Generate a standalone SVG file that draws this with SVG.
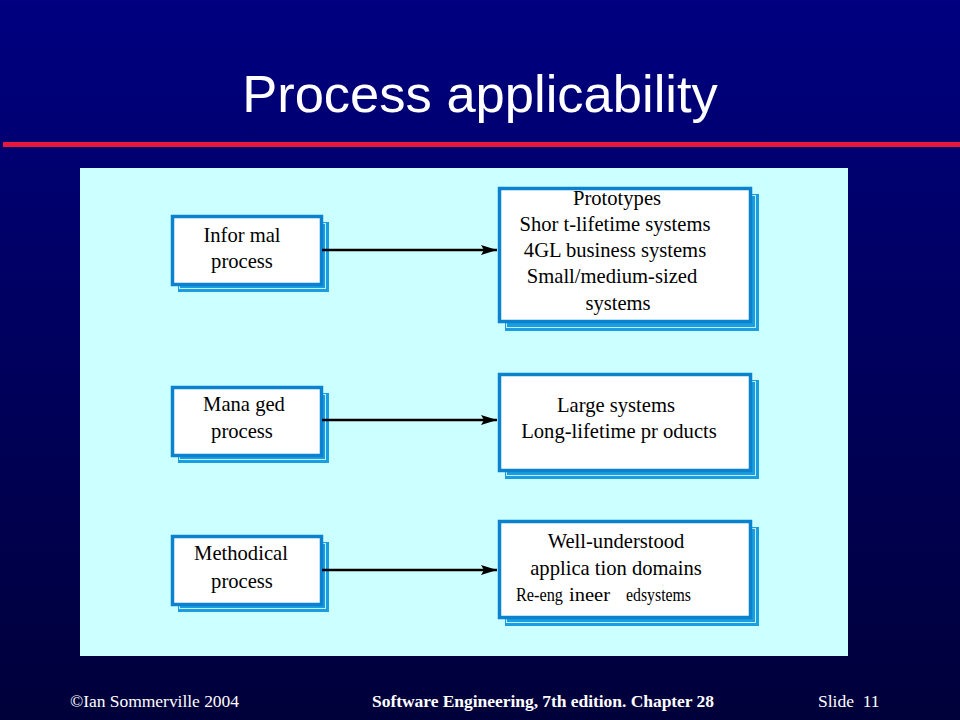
<svg xmlns="http://www.w3.org/2000/svg" width="960" height="720" viewBox="0 0 960 720">
<defs>
<linearGradient id="bg" x1="0" y1="0" x2="0" y2="1">
<stop offset="0" stop-color="#000080"/>
<stop offset="1" stop-color="#00003a"/>
</linearGradient>
<marker id="ah" viewBox="0 0 16 10" refX="16" refY="5" markerWidth="16" markerHeight="10" markerUnits="userSpaceOnUse" orient="auto">
<path d="M0,0 L16,5 L0,10 L3,5 Z" fill="#000"/>
</marker>
<style>
.sh{fill:#1a9ee0;stroke:none}
.shl{fill:none;stroke:#bfefff;stroke-width:1}
.bx{fill:#ffffff;stroke:#0a82d0;stroke-width:3.5}
.t{font-family:"Liberation Serif","Times New Roman",serif;font-size:20.6px;fill:#000;text-anchor:middle}
.t3{font-family:"Liberation Serif","Times New Roman",serif;font-size:19px;fill:#000}
.ft{font-family:"Liberation Serif","Times New Roman",serif;font-size:17.5px;fill:#fff}
.cn{stroke:#000;stroke-width:2.5;fill:none}
</style>
</defs>
<rect width="960" height="720" fill="url(#bg)"/>
<text x="480" y="112" font-family="Liberation Sans,Arial,sans-serif" font-size="52.5" fill="#fff" text-anchor="middle">Process applicability</text>
<rect x="3" y="142" width="957" height="5" fill="#e8173f"/>
<rect x="80" y="168" width="768" height="488" fill="#ccffff"/>

<g id="informal">
<rect class="sh" x="178" y="222" width="151" height="70"/>
<rect class="shl" x="179.5" y="223.5" width="146" height="65"/>
<rect class="bx" x="172.5" y="216.5" width="149" height="68"/>
<text class="t" x="242" y="242">Infor mal</text>
<text class="t" x="242" y="268">process</text>
</g>
<g id="managed">
<rect class="sh" x="178" y="393" width="151" height="70"/>
<rect class="shl" x="179.5" y="394.5" width="146" height="65"/>
<rect class="bx" x="172.5" y="387.5" width="149" height="68"/>
<text class="t" x="244" y="411">Mana ged</text>
<text class="t" x="242" y="438">process</text>
</g>
<g id="methodical">
<rect class="sh" x="178" y="542" width="151" height="70"/>
<rect class="shl" x="179.5" y="543.5" width="146" height="65"/>
<rect class="bx" x="172.5" y="536.5" width="149" height="68"/>
<text class="t" x="241" y="560">Methodical</text>
<text class="t" x="242" y="588">process</text>
</g>

<g id="informal-use">
<rect class="sh" x="505" y="194" width="254" height="137"/>
<rect class="shl" x="506.5" y="195.5" width="249" height="132"/>
<rect class="bx" x="499.5" y="188.5" width="251" height="133"/>
<text class="t" x="617" y="205">Prototypes</text>
<text class="t" x="615" y="231">Shor t-lifetime systems</text>
<text class="t" x="615" y="257">4GL business systems</text>
<text class="t" x="612" y="283">Small/medium-sized</text>
<text class="t" x="618" y="310">systems</text>
</g>
<g id="managed-use">
<rect class="sh" x="505" y="380" width="254" height="99"/>
<rect class="shl" x="506.5" y="381.5" width="249" height="94"/>
<rect class="bx" x="499.5" y="374.5" width="251" height="96"/>
<text class="t" x="616" y="412">Large systems</text>
<text class="t" x="619" y="438">Long-lifetime pr oducts</text>
</g>
<g id="methodical-use">
<rect class="sh" x="505" y="527" width="254" height="99"/>
<rect class="shl" x="506.5" y="528.5" width="249" height="94"/>
<rect class="bx" x="499.5" y="521.5" width="251" height="96"/>
<text class="t" x="616" y="548">Well-understood</text>
<text class="t" x="616" y="575">applica tion domains</text>
<text class="t3" x="516" y="601" textLength="47" lengthAdjust="spacingAndGlyphs">Re-eng</text>
<text class="t3" x="569" y="601" textLength="41" lengthAdjust="spacingAndGlyphs">ineer</text>
<text class="t3" x="626" y="601" textLength="65" lengthAdjust="spacingAndGlyphs">edsystems</text>
</g>

<g id="connectors">
<line class="cn" x1="322" y1="250" x2="497" y2="250" marker-end="url(#ah)"/>
<line class="cn" x1="322" y1="420" x2="497" y2="420" marker-end="url(#ah)"/>
<line class="cn" x1="322" y1="570" x2="497" y2="570" marker-end="url(#ah)"/>
</g>

<text class="ft" x="70" y="707" textLength="169">©Ian Sommerville 2004</text>
<text class="ft" x="372" y="707" font-weight="bold" textLength="342">Software Engineering, 7th edition. Chapter 28</text>
<text class="ft" x="818" y="707" xml:space="preserve">Slide  11</text>
</svg>
